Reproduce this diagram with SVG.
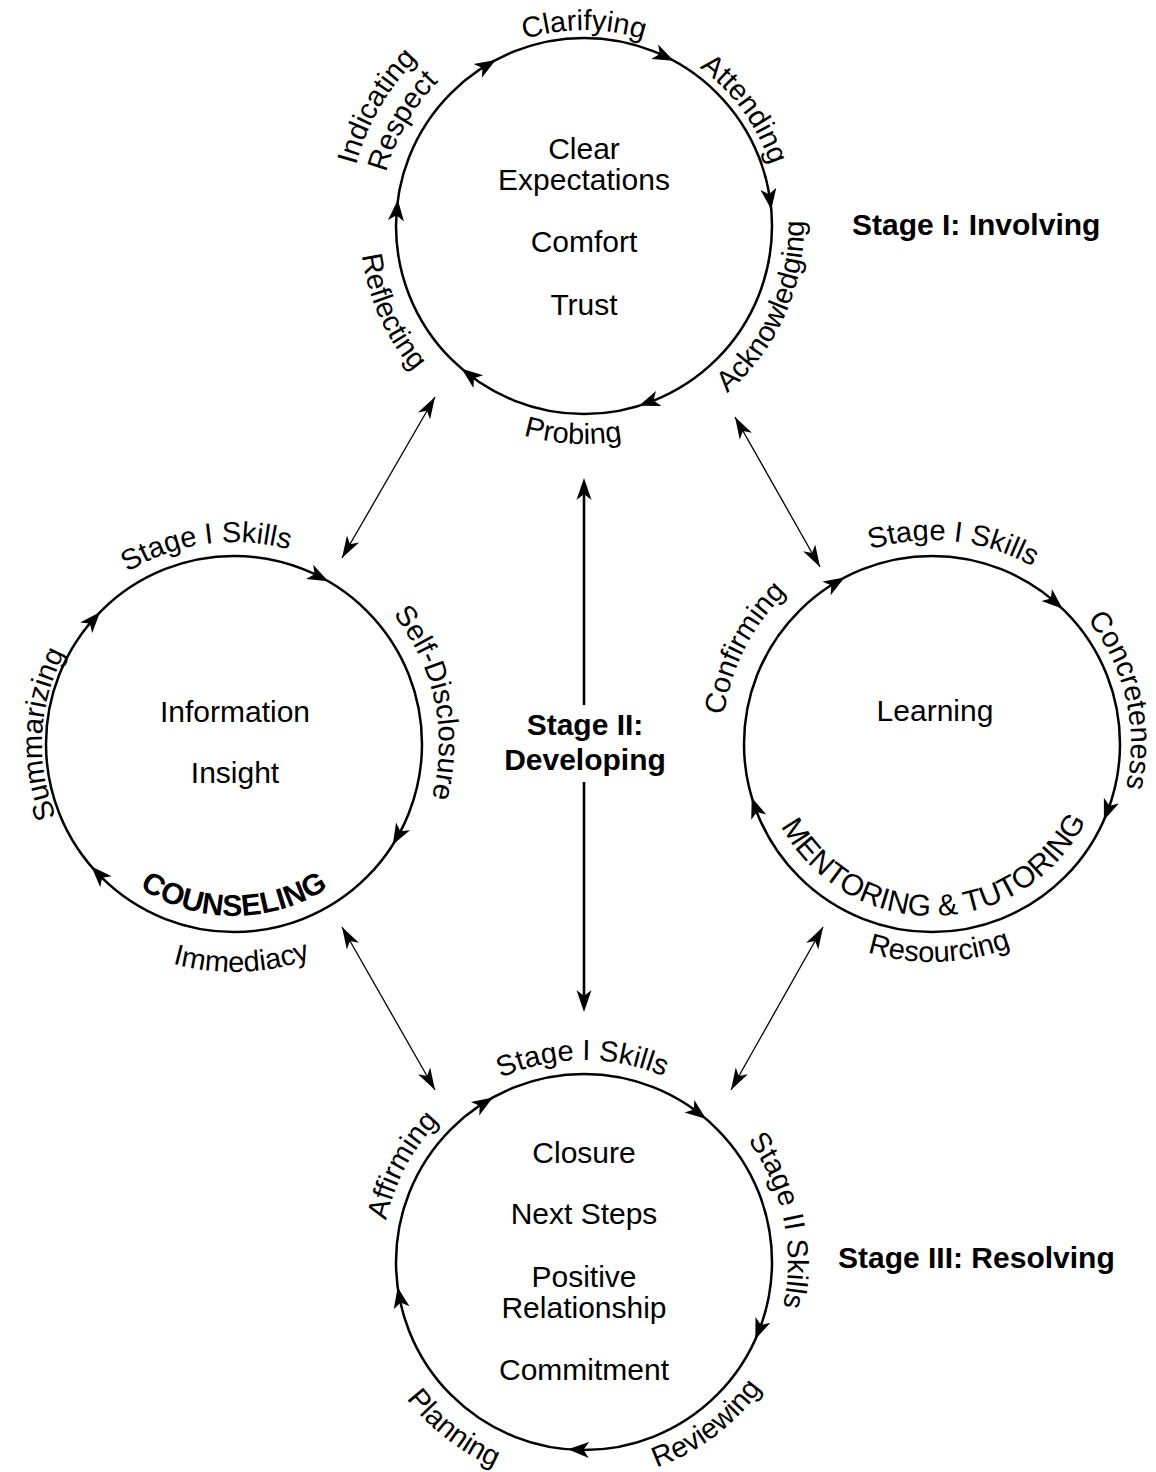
<svg xmlns="http://www.w3.org/2000/svg" width="1156" height="1472" viewBox="0 0 1156 1472">
<style>
.ring{fill:none;stroke:#000;stroke-width:2.5}
.lbl{font-family:"Liberation Sans",Arial,Helvetica,sans-serif;font-size:29px;fill:#000;text-anchor:middle}
.ctr{font-family:"Liberation Sans",Arial,Helvetica,sans-serif;font-size:30px;fill:#000;text-anchor:middle}
.bold{font-weight:bold;font-size:30px}
.big{font-size:30px}
.stage{font-family:"Liberation Sans",Arial,Helvetica,sans-serif;font-size:30px;font-weight:bold;fill:#000}
.thin{stroke:#000;stroke-width:1.3;fill:none}
.thick{stroke:#000;stroke-width:2.6;fill:none}
</style>
<defs>
<path id="cw192" d="M-191.27,-16.73 A192,192 0 0 1 191.27,-16.73"/>
<path id="cw196" d="M-195.25,-17.08 A196,196 0 0 1 195.25,-17.08"/>
<path id="cw199" d="M-198.24,-17.34 A199,199 0 0 1 198.24,-17.34"/>
<path id="cw202" d="M-201.23,-17.61 A202,202 0 0 1 201.23,-17.61"/>
<path id="cw204" d="M-203.22,-17.78 A204,204 0 0 1 203.22,-17.78"/>
<path id="cw205" d="M-204.22,-17.87 A205,205 0 0 1 204.22,-17.87"/>
<path id="cw210" d="M-209.20,-18.30 A210,210 0 0 1 209.20,-18.30"/>
<path id="cw236" d="M-235.10,-20.57 A236,236 0 0 1 235.10,-20.57"/>
<path id="ccw172" d="M-171.34,14.99 A172,172 0 0 0 171.34,14.99"/>
<path id="ccw218" d="M-217.17,19.00 A218,218 0 0 0 217.17,19.00"/>
<path id="ccw220" d="M-219.16,19.17 A220,220 0 0 0 219.16,19.17"/>
<path id="ccw224" d="M-223.15,19.52 A224,224 0 0 0 223.15,19.52"/>
<path id="ccw228" d="M-227.13,19.87 A228,228 0 0 0 227.13,19.87"/>
<path id="ah" d="M0,0 L-21,-8 L-15.5,0 L-21,8 Z" fill="#000"/>
<marker id="mthin" markerUnits="userSpaceOnUse" markerWidth="24" markerHeight="18" viewBox="0 0 24 18" refX="22" refY="9" orient="auto-start-reverse">
<path d="M0,2 L22,9 L0,16 L6,9 Z" fill="#000"/>
</marker>
<marker id="mthick" markerUnits="userSpaceOnUse" markerWidth="24" markerHeight="18" viewBox="0 0 24 18" refX="17" refY="9" orient="auto-start-reverse">
<path d="M0,1.5 L22,9 L0,16.5 L6,9 Z" fill="#000"/>
</marker>
</defs>
<rect x="0" y="0" width="1156" height="1472" fill="#fff"/>

<g id="stage1-involving">
<circle class="ring" cx="584" cy="226" r="188"/>
<use href="#ah" transform="translate(584,226) rotate(-118) translate(188,0) rotate(87)"/>
<use href="#ah" transform="translate(584,226) rotate(-61.5) translate(188,0) rotate(87)"/>
<use href="#ah" transform="translate(584,226) rotate(-5) translate(188,0) rotate(87)"/>
<use href="#ah" transform="translate(584,226) rotate(73) translate(188,0) rotate(87)"/>
<use href="#ah" transform="translate(584,226) rotate(130.6) translate(188,0) rotate(87)"/>
<use href="#ah" transform="translate(584,226) rotate(-172) translate(188,0) rotate(87)"/>
<text class="lbl" transform="translate(584,226)"><textPath href="#cw196" startOffset="50%">Clarifying</textPath></text>
<text class="lbl" transform="translate(584,226) rotate(54)"><textPath href="#cw196" startOffset="50%">Attending</textPath></text>
<text class="lbl" transform="translate(584,226) rotate(-66)"><textPath href="#ccw220" startOffset="50%">Acknowledging</textPath></text>
<text class="lbl" transform="translate(584,226) rotate(-60)"><textPath href="#cw236" startOffset="50%">Indicating</textPath></text>
<text class="lbl" transform="translate(584,226) rotate(-60)"><textPath href="#cw205" startOffset="50%">Respect</textPath></text>
<text class="lbl" transform="translate(584,226) rotate(66)"><textPath href="#ccw224" startOffset="50%">Reflecting</textPath></text>
<text class="lbl" transform="translate(584,226) rotate(3)"><textPath href="#ccw218" startOffset="50%">Probing</textPath></text>
<text class="ctr" x="584" y="159">Clear</text>
<text class="ctr" x="584" y="190">Expectations</text>
<text class="ctr" x="584" y="252">Comfort</text>
<text class="ctr" x="584" y="315">Trust</text>
</g>

<g id="counseling">
<circle class="ring" cx="234" cy="744" r="188"/>
<use href="#ah" transform="translate(234,744) rotate(-135.4) translate(188,0) rotate(87)"/>
<use href="#ah" transform="translate(234,744) rotate(-59.9) translate(188,0) rotate(87)"/>
<use href="#ah" transform="translate(234,744) rotate(32.4) translate(188,0) rotate(87)"/>
<use href="#ah" transform="translate(234,744) rotate(139.3) translate(188,0) rotate(87)"/>
<text class="lbl" transform="translate(234,744) rotate(-8)"><textPath href="#cw202" startOffset="50%">Stage I Skills</textPath></text>
<text class="lbl" transform="translate(234,744) rotate(78)"><textPath href="#cw205" startOffset="50%">Self-Disclosure</textPath></text>
<text class="lbl" transform="translate(234,744) rotate(-87)"><textPath href="#cw192" startOffset="50%">Summarizing</textPath></text>
<text class="lbl bold" transform="translate(234,744)"><textPath href="#ccw172" startOffset="50%">COUNSELING</textPath></text>
<text class="lbl" transform="translate(234,744) rotate(-2)"><textPath href="#ccw228" startOffset="50%">Immediacy</textPath></text>
<text class="ctr" x="235" y="722">Information</text>
<text class="ctr" x="235" y="783">Insight</text>
</g>

<g id="mentoring-tutoring">
<circle class="ring" cx="932" cy="744" r="188"/>
<use href="#ah" transform="translate(932,744) rotate(-117.7) translate(188,0) rotate(87)"/>
<use href="#ah" transform="translate(932,744) rotate(-46) translate(188,0) rotate(87)"/>
<use href="#ah" transform="translate(932,744) rotate(23.9) translate(188,0) rotate(87)"/>
<use href="#ah" transform="translate(932,744) rotate(163.5) translate(188,0) rotate(87)"/>
<text class="lbl" transform="translate(932,744) rotate(6)"><textPath href="#cw204" startOffset="50%">Stage I Skills</textPath></text>
<text class="lbl" transform="translate(932,744) rotate(77)"><textPath href="#cw199" startOffset="50%">Concreteness</textPath></text>
<text class="lbl" transform="translate(932,744) rotate(-63)"><textPath href="#cw210" startOffset="50%">Confirming</textPath></text>
<text class="lbl big" transform="translate(932,744) rotate(-1)"><textPath href="#ccw172" startOffset="50%">MENTORING &amp; TUTORING</textPath></text>
<text class="lbl" transform="translate(932,744) rotate(-2)"><textPath href="#ccw218" startOffset="50%">Resourcing</textPath></text>
<text class="ctr" x="935" y="721">Learning</text>
</g>

<g id="stage3-resolving">
<circle class="ring" cx="584" cy="1262" r="188"/>
<use href="#ah" transform="translate(584,1262) rotate(-119) translate(188,0) rotate(87)"/>
<use href="#ah" transform="translate(584,1262) rotate(-49.5) translate(188,0) rotate(87)"/>
<use href="#ah" transform="translate(584,1262) rotate(24.3) translate(188,0) rotate(87)"/>
<use href="#ah" transform="translate(584,1262) rotate(94.9) translate(188,0) rotate(87)"/>
<use href="#ah" transform="translate(584,1262) rotate(172.3) translate(188,0) rotate(87)"/>
<text class="lbl" transform="translate(584,1262) rotate(-0.5)"><textPath href="#cw202" startOffset="50%">Stage I Skills</textPath></text>
<text class="lbl" transform="translate(584,1262) rotate(78)"><textPath href="#cw204" startOffset="50%">Stage II Skills</textPath></text>
<text class="lbl" transform="translate(584,1262) rotate(-62)"><textPath href="#cw202" startOffset="50%">Affirming</textPath></text>
<text class="lbl" transform="translate(584,1262) rotate(38)"><textPath href="#ccw224" startOffset="50%">Planning</textPath></text>
<text class="lbl" transform="translate(584,1262) rotate(-37)"><textPath href="#ccw218" startOffset="50%">Reviewing</textPath></text>
<text class="ctr" x="584" y="1163">Closure</text>
<text class="ctr" x="584" y="1224">Next Steps</text>
<text class="ctr" x="584" y="1287">Positive</text>
<text class="ctr" x="584" y="1318">Relationship</text>
<text class="ctr" x="584" y="1380">Commitment</text>
</g>

<g id="stage-labels">
<text class="stage" x="852" y="235">Stage I: Involving</text>
<text class="stage" x="838" y="1268">Stage III: Resolving</text>
<text class="stage" x="585" y="735" text-anchor="middle">Stage II:</text>
<text class="stage" x="585" y="770" text-anchor="middle">Developing</text>
</g>

<g id="connectors">
<line class="thick" x1="584" y1="483" x2="584" y2="705" marker-start="url(#mthick)"/>
<line class="thick" x1="584" y1="782" x2="584" y2="1007" marker-end="url(#mthick)"/>
<line class="thin" x1="435" y1="397" x2="342" y2="558" marker-start="url(#mthin)" marker-end="url(#mthin)"/>
<line class="thin" x1="735" y1="417" x2="820" y2="567" marker-start="url(#mthin)" marker-end="url(#mthin)"/>
<line class="thin" x1="342" y1="927" x2="435" y2="1090" marker-start="url(#mthin)" marker-end="url(#mthin)"/>
<line class="thin" x1="823" y1="927" x2="731" y2="1090" marker-start="url(#mthin)" marker-end="url(#mthin)"/>
</g>
</svg>
